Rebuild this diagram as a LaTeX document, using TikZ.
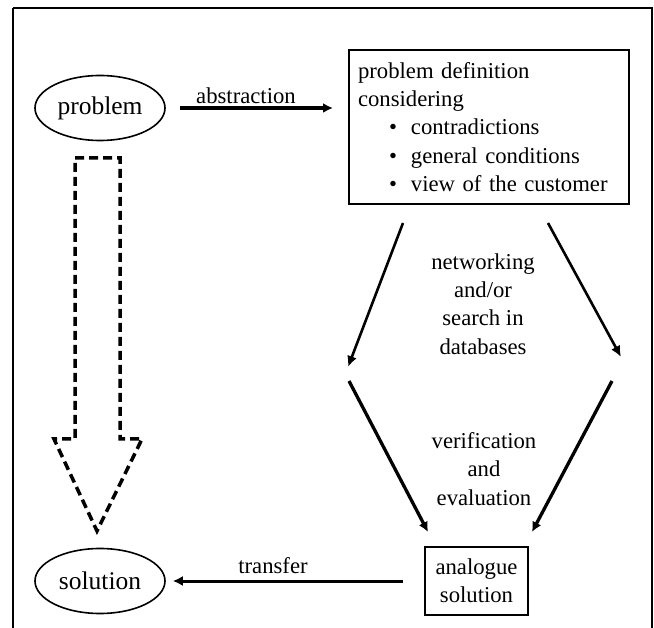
\documentclass[tikz,border=0pt]{standalone}
\usepackage{fontspec}
\setmainfont{Liberation Serif}
\usetikzlibrary{shapes.geometric,arrows.meta}
\begin{document}
\begin{tikzpicture}[x=1pt,y=-1pt,
  every node/.style={font=\fontsize{22.7}{28.3}\selectfont},
  oval/.style={draw,ellipse,line width=1.6pt,inner sep=0pt,minimum width=130pt,minimum height=65pt,font=\fontsize{25.5}{30}\selectfont},
  boxnode/.style={draw,rectangle,line width=2pt},
  arr/.style={line width=3.3pt,-{Latex[length=10pt,width=10pt]}},
  thinarr/.style={line width=2.6pt,-{Latex[length=11pt,width=10pt]}},
  lbl/.style={align=center,inner sep=0pt},
  blockarrow/.style={line width=3.5pt,dash pattern=on 9pt off 5pt}
]
\useasboundingbox (0,0) rectangle (654,628);
\draw[line width=2.2pt] (13,8) -- (652,8) -- (652,640) (13,640) -- (13,8);

\node[oval] (prob) at (100,108) {problem};
\node[oval] (sol) at (100,581) {solution};

\node[boxnode,minimum width=280pt,minimum height=154pt,text width=262pt,inner xsep=9pt,align=left,anchor=north west] (pd) at (348,49)
 {problem definition\\considering\\
  \hspace*{31pt}\textbullet\hspace{14pt}contradictions\\
  \hspace*{31pt}\textbullet\hspace{14pt}general conditions\\
  \hspace*{31pt}\textbullet\hspace{14pt}view of the customer};

\node[boxnode,minimum width=103pt,minimum height=68pt,align=center,inner sep=2pt] (an) at (476.5,581) {analogue\\solution};

\draw[arr,shorten <=14pt,shorten >=15pt] (prob.east) -- (prob.east -| pd.west);
\node[lbl] (labs) at (246,96) {abstraction};

\draw[arr,line width=3pt,shorten <=21pt,shorten >=7pt] (an.west) -- (an.west -| sol.east);
\node[lbl] (ltr) at (273,566) {transfer};

\coordinate (a1) at (403,223);
\coordinate (a2) at (348,367);
\coordinate (b1) at (548,223);
\coordinate (b2) at (621,357);
\coordinate (c1) at (349,381);
\coordinate (c2) at (428,532);
\coordinate (d1) at (612,381);
\coordinate (d2) at (532,532);
\draw[thinarr] (a1) -- (a2);
\draw[thinarr] (b1) -- (b2);
\draw[arr] (c1) -- (c2);
\draw[arr] (d1) -- (d2);

\node[lbl] (lnet) at (483,304) {networking\\and/or\\search in\\databases};
\node[lbl] (lver) at (484,469) {verification\\and\\evaluation};

\draw[blockarrow] (75,158) -- (120,158) -- (120,439) -- (142,439) -- (97,531) -- (54,439) -- (75,439) -- cycle;
\end{tikzpicture}
\end{document}
